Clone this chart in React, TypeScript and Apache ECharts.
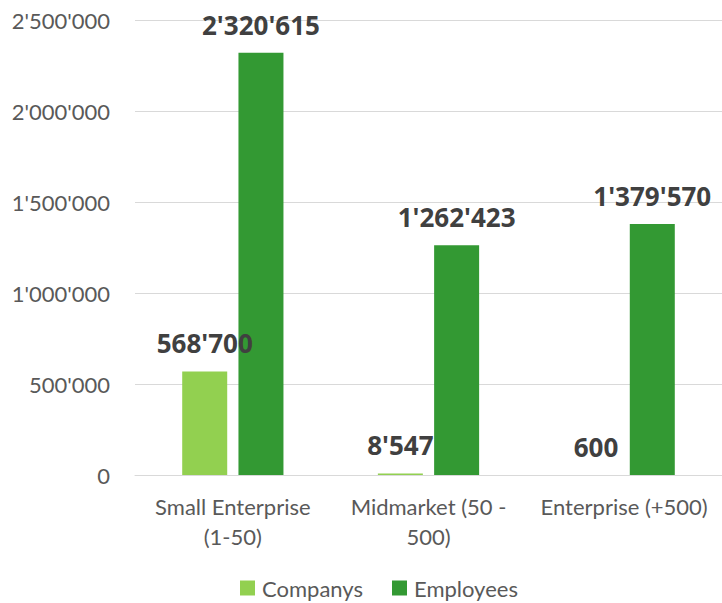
import React, { useEffect, useRef } from "react";
import * as echarts from "echarts";

const categories = ["Small Enterprise\n(1-50)", "Midmarket (50 -\n500)", "Enterprise (+500)"];
const companys = [568700, 8547, 600];
const employees = [2320615, 1262423, 1379570];
const seriesNames = ["Companys", "Employees"];

const fmt = (v: number) => String(Math.round(v)).replace(/\B(?=(\d{3})+(?!\d))/g, "'");

export default function App() {
  const ref = useRef<HTMLDivElement>(null);
  useEffect(() => {
    if (!ref.current) return;
    const chart = echarts.init(ref.current, undefined, { renderer: "svg" });
    const font = "Lato, 'Liberation Sans', sans-serif";
    const boldFont = "'Open Sans', Lato, sans-serif";
    const labelStyle = {
      show: true,
      position: "top" as const,
      distance: 15,
      fontSize: 26,
      fontWeight: "bold" as const,
      color: "#404040",
      fontFamily: boldFont,
      formatter: (p: any) => fmt(p.value),
    };
    chart.setOption({
      animation: false,
      textStyle: { fontFamily: font },
      grid: { left: 135, right: 0, top: 20, bottom: 128 },
      legend: {
        top: 577,
        left: 240,
        padding: 0,
        itemWidth: 15,
        itemHeight: 15,
        itemGap: 29,
        icon: "rect",
        textStyle: { fontSize: 22, color: "#595959", fontFamily: font, padding: [0, 0, 0, 2] },
        data: seriesNames,
      },
      xAxis: {
        type: "category",
        data: categories,
        axisLine: { lineStyle: { color: "#d9d9d9" } },
        axisTick: { show: false },
        axisLabel: {
          fontSize: 22,
          color: "#595959",
          lineHeight: 30,
          margin: 16,
          interval: 0,
          fontFamily: font,
        },
      },
      yAxis: {
        type: "value",
        min: 0,
        max: 2500000,
        interval: 500000,
        axisLine: { show: false },
        axisTick: { show: false },
        splitLine: { lineStyle: { color: "#d9d9d9" } },
        axisLabel: {
          fontSize: 22,
          color: "#595959",
          margin: 25,
          fontFamily: font,
          formatter: (v: number) => fmt(v),
        },
      },
      series: [
        {
          name: seriesNames[0],
          type: "bar",
          data: companys,
          barWidth: 45,
          barGap: "25%",
          itemStyle: { color: "#92D050" },
          label: labelStyle,
        },
        {
          name: seriesNames[1],
          type: "bar",
          data: employees,
          barWidth: 45,
          barGap: "25%",
          itemStyle: { color: "#339933" },
          label: labelStyle,
        },
      ],
    });
    return () => chart.dispose();
  }, []);
  return (
    <div
      ref={ref}
      style={{ position: "fixed", left: 0, top: 0, width: 722, height: 603, background: "#fff" }}
    />
  );
}
